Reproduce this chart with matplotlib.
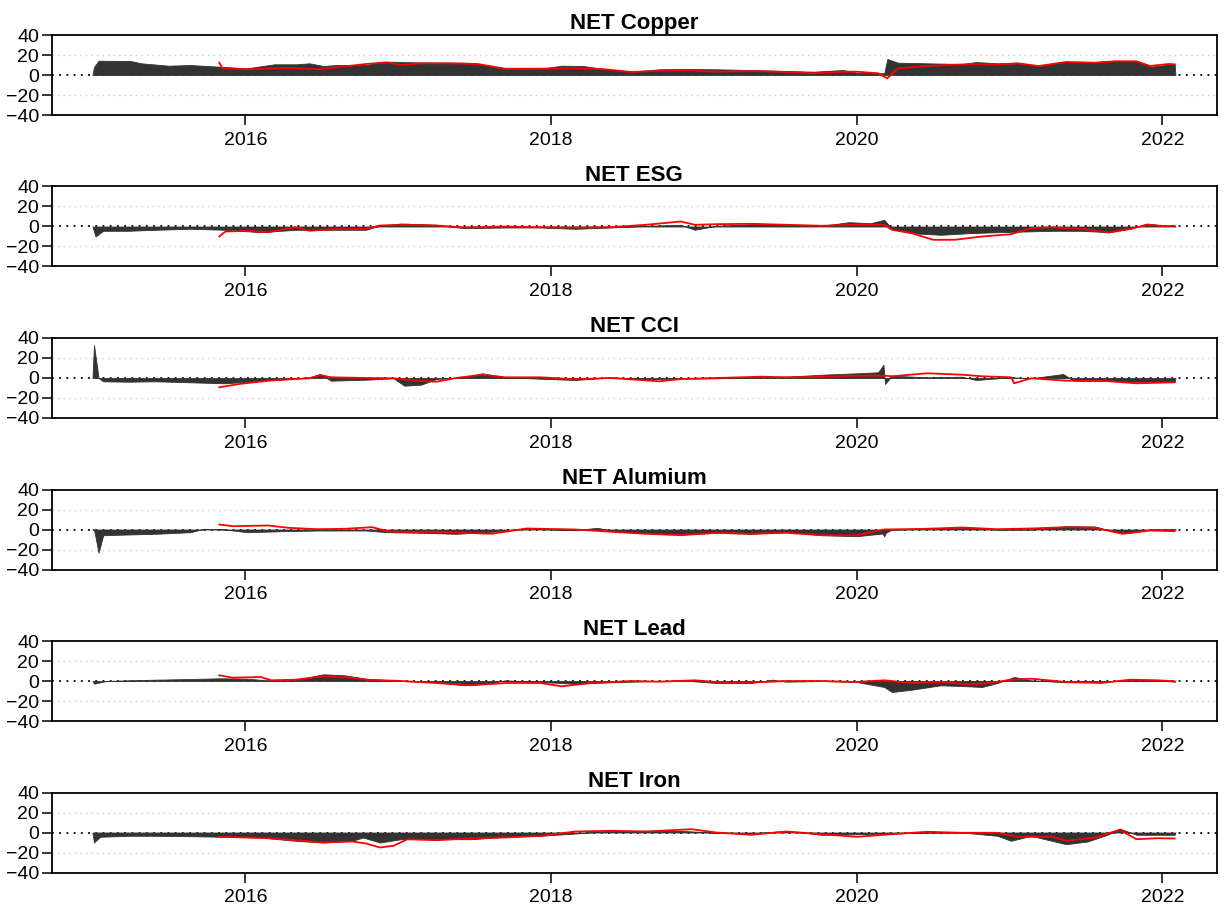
import matplotlib
matplotlib.use("Agg")
import matplotlib.pyplot as plt
import numpy as np

plt.rcParams['font.family'] = ['Liberation Sans', 'DejaVu Sans']

# decimal year, value pairs
titles = ['NET Copper', 'NET ESG', 'NET CCI', 'NET Alumium', 'NET Lead', 'NET Iron']

copper_net = [(2015.00, 0), (2015.01, 8), (2015.04, 14.3), (2015.25, 14), (2015.32, 11.7), (2015.50, 9.3),
              (2015.64, 10), (2015.83, 8.3), (2016.01, 6.7), (2016.19, 10.7), (2016.33, 10.7), (2016.42, 11.7),
              (2016.51, 9), (2016.60, 10), (2016.79, 10), (2016.88, 13), (2016.97, 13.3), (2017.11, 12.7),
              (2017.25, 12.3), (2017.43, 12.3), (2017.57, 10), (2017.70, 6), (2017.93, 6.3), (2018.07, 9.3),
              (2018.21, 9), (2018.35, 6), (2018.53, 3.3), (2018.71, 5.7), (2018.90, 6), (2019.08, 5.7),
              (2019.31, 5), (2019.54, 4), (2019.72, 3.3), (2019.91, 5), (2020.00, 2.3), (2020.18, 1.7),
              (2020.20, 16), (2020.27, 12.3), (2020.46, 11.7), (2020.69, 11), (2020.78, 13), (2020.92, 11.7),
              (2021.05, 12.3), (2021.19, 9), (2021.37, 13.3), (2021.56, 13), (2021.69, 14.3), (2021.83, 13.7),
              (2021.92, 8.3), (2022.02, 10), (2022.08, 11), (2022.085, 0)]
copper_pair = [(2015.83, 12.3), (2015.85, 6.7), (2016.01, 5.7), (2016.19, 6.7), (2016.33, 6.7), (2016.47, 5.7),
               (2016.60, 7.7), (2016.79, 11), (2016.93, 12.7), (2017.02, 10), (2017.15, 11.7), (2017.34, 11.7),
               (2017.52, 11), (2017.70, 6.3), (2017.93, 6.3), (2018.16, 6.7), (2018.35, 5.7), (2018.53, 3),
               (2018.71, 4.3), (2018.90, 4.7), (2019.08, 3.3), (2019.31, 4), (2019.54, 3), (2019.72, 1.7),
               (2019.91, 3.3), (2020.00, 3.3), (2020.14, 1.7), (2020.20, -3.3), (2020.27, 6.7), (2020.46, 9),
               (2020.59, 10), (2020.78, 11), (2020.92, 10.3), (2021.05, 11.7), (2021.19, 9), (2021.37, 13),
               (2021.56, 12.3), (2021.69, 13.7), (2021.83, 13.7), (2021.92, 9), (2022.04, 11), (2022.08, 10.7)]

esg_net = [(2015.00, 0), (2015.02, -10), (2015.07, -4.3), (2015.23, -4.3), (2015.41, -3.3), (2015.64, -2.3),
           (2015.87, -3.3), (2016.10, -5.7), (2016.33, -3.3), (2016.56, -3.3), (2016.79, -3.3), (2016.88, 1),
           (2017.02, 3), (2017.25, 1.7), (2017.43, -1.7), (2017.70, -1), (2017.93, -1), (2018.16, -2.3),
           (2018.39, -1), (2018.62, 0.7), (2018.85, 1.7), (2018.94, -3.3), (2019.08, 0.7), (2019.31, 2.3),
           (2019.54, 1.7), (2019.77, 0.7), (2019.95, 4.3), (2020.09, 3.3), (2020.18, 6.7), (2020.23, -2.3),
           (2020.36, -6.7), (2020.55, -8.3), (2020.73, -6.7), (2020.92, -5.7), (2021.10, -5), (2021.28, -4.3),
           (2021.47, -4.3), (2021.65, -5.7), (2021.79, -2.3), (2021.90, 3), (2022.02, 0.7), (2022.08, 0.7),
           (2022.085, 0)]
esg_pair = [(2015.83, -10), (2015.87, -5), (2016.01, -4.3), (2016.15, -5.7), (2016.33, -0.7), (2016.42, -4.3),
            (2016.56, -2.7), (2016.79, -2.3), (2016.88, 1), (2017.06, 1.7), (2017.25, 1), (2017.43, -1),
            (2017.70, 0), (2017.93, -0.7), (2018.16, -1), (2018.39, -0.7), (2018.62, 1.7), (2018.85, 5),
            (2018.94, 1.7), (2019.08, 2.3), (2019.31, 2.7), (2019.54, 1.7), (2019.77, 0.7), (2019.95, 1.7),
            (2020.18, 1.7), (2020.23, -3.3), (2020.36, -6.7), (2020.50, -13.3), (2020.64, -13.3), (2020.82, -10),
            (2021.01, -7.7), (2021.14, -1.7), (2021.28, -0.7), (2021.47, -2.3), (2021.65, -6), (2021.79, -2.3),
            (2021.90, 1.7), (2022.02, 0.3), (2022.08, 0.7)]

cci_net = [(2015.00, 0), (2015.01, 33), (2015.04, 0), (2015.07, -3.3), (2015.23, -3.7), (2015.41, -3.3),
           (2015.64, -4.3), (2015.87, -5.3), (2016.05, -3.3), (2016.24, -1.3), (2016.42, 0.7), (2016.49, 4),
           (2016.56, -2.7), (2016.79, -1.7), (2016.97, -0.3), (2017.04, -7.7), (2017.15, -6.7), (2017.25, -1),
           (2017.43, 0.7), (2017.55, 4.7), (2017.70, 0.7), (2017.93, -0.7), (2018.16, -2), (2018.39, 0.7),
           (2018.62, -1), (2018.85, -0.7), (2019.08, -0.3), (2019.31, 0.7), (2019.54, 1.3), (2019.77, 3.3),
           (2020.00, 4.7), (2020.14, 5.7), (2020.175, 13.3), (2020.185, -6), (2020.23, 2.3), (2020.46, 0.7),
           (2020.69, 1.3), (2020.78, -2), (2021.01, 0.7), (2021.14, -0.3), (2021.35, 4), (2021.42, -2.7),
           (2021.60, -2.7), (2021.83, -3.7), (2022.08, -3.7), (2022.085, 0)]
cci_pair = [(2015.83, -9.3), (2015.96, -6), (2016.15, -2.7), (2016.33, -1), (2016.42, -0.3), (2016.49, 3),
            (2016.56, 0.7), (2016.79, 0), (2016.97, -0.3), (2017.11, -2.7), (2017.25, -3.7), (2017.38, 0),
            (2017.55, 3.3), (2017.70, 0.7), (2017.93, 0.7), (2018.16, -1.3), (2018.39, 0), (2018.71, -3.3),
            (2018.85, -1), (2019.08, 0), (2019.38, 1.3), (2019.54, 0.7), (2019.77, 1.3), (2020.00, 2.3),
            (2020.18, 2.3), (2020.23, 1.7), (2020.46, 4.7), (2020.69, 3.3), (2020.82, 1.7), (2021.01, 0.7),
            (2021.03, -5.3), (2021.14, -0.3), (2021.37, -2.7), (2021.60, -2.7), (2021.83, -5.3), (2022.08, -4.3)]

alum_net = [(2015.00, 0), (2015.01, 0), (2015.04, -23.3), (2015.07, -5.7), (2015.23, -5), (2015.41, -4.3),
            (2015.64, -2.7), (2015.73, 0.7), (2015.87, 0), (2016.01, -2.7), (2016.24, -1.7), (2016.47, -1),
            (2016.79, -1), (2016.93, -2.7), (2017.16, -3.3), (2017.38, -4.3), (2017.61, -2.3), (2017.84, 1),
            (2018.16, -0.7), (2018.30, 1.7), (2018.44, -2.3), (2018.62, -3.3), (2018.85, -5), (2019.08, -3.3),
            (2019.31, -4.3), (2019.54, -2.3), (2019.77, -5.7), (2020.00, -6.7), (2020.17, -4), (2020.18, -7),
            (2020.19, -3.3), (2020.23, 0), (2020.46, 0.7), (2020.69, 1.7), (2020.92, 0), (2021.14, 0),
            (2021.37, 3.3), (2021.56, 3), (2021.69, -2.3), (2021.79, -3.3), (2021.92, 0), (2022.08, 0),
            (2022.085, 0)]
alum_pair = [(2015.83, 5), (2015.92, 3.3), (2016.15, 4), (2016.28, 1.7), (2016.47, 0.3), (2016.65, 0.7),
             (2016.83, 2.3), (2016.93, -1.7), (2017.06, -2.7), (2017.25, -2.3), (2017.43, -3.3), (2017.61, -4.3),
             (2017.84, 1), (2018.16, 0), (2018.44, -2.7), (2018.62, -4.3), (2018.85, -5.7), (2019.08, -3.3),
             (2019.31, -4.3), (2019.54, -3.3), (2019.77, -5.7), (2020.00, -5.7), (2020.18, 0), (2020.46, 0.7),
             (2020.69, 2), (2020.92, 0.3), (2021.14, 1), (2021.37, 2.3), (2021.56, 1.7), (2021.74, -4.3),
             (2021.92, -1), (2022.08, -1.7)]

lead_net = [(2015.00, 0), (2015.01, -2.7), (2015.09, 0), (2015.23, 0.7), (2015.41, 1.3), (2015.64, 2),
            (2015.83, 2.7), (2016.01, 2.3), (2016.15, 0.7), (2016.33, 1.3), (2016.51, 6.7), (2016.65, 5.7),
            (2016.79, 2.3), (2017.02, 0), (2017.25, -1.3), (2017.43, -4.3), (2017.61, -2), (2017.70, 0.7),
            (2017.93, -1), (2018.16, -2.7), (2018.39, -1.3), (2018.62, -0.3), (2018.85, 0.7), (2019.08, -2),
            (2019.31, -2), (2019.45, 1.3), (2019.54, -0.7), (2019.77, 0), (2020.00, -1), (2020.18, -6),
            (2020.23, -11), (2020.36, -8.7), (2020.55, -4.3), (2020.73, -5.3), (2020.82, -6), (2020.92, -2),
            (2021.03, 4), (2021.14, 0.7), (2021.37, -1.3), (2021.60, -1), (2021.79, 1.3), (2021.97, 0.7),
            (2022.08, -0.7), (2022.085, 0)]
lead_pair = [(2015.83, 5.7), (2015.92, 3.3), (2016.10, 4), (2016.17, 0.7), (2016.33, 1.3), (2016.51, 4.7),
             (2016.70, 3.3), (2016.79, 1.3), (2017.02, 0), (2017.25, -2), (2017.48, -4.3), (2017.70, -2),
             (2017.93, -2), (2018.07, -5.3), (2018.26, -2), (2018.53, 0), (2018.71, -0.7), (2018.94, 0.7),
             (2019.17, -2), (2019.40, -1), (2019.54, 0), (2019.77, 0), (2020.00, -1), (2020.18, 0.7),
             (2020.36, -2), (2020.55, -1), (2020.73, -3.3), (2020.87, -2), (2021.01, 1.3), (2021.14, 2.3),
             (2021.37, -1), (2021.60, -2), (2021.79, 1.3), (2021.97, 0.7), (2022.08, -0.3)]

iron_net = [(2015.00, 0), (2015.01, -10), (2015.05, -4.3), (2015.23, -3.3), (2015.41, -3.3), (2015.64, -3.7),
            (2015.87, -4.3), (2016.10, -5), (2016.33, -8.3), (2016.51, -10), (2016.70, -8.3), (2016.77, -5),
            (2016.88, -10), (2017.02, -6.7), (2017.25, -6.7), (2017.48, -6.7), (2017.70, -4.3), (2017.93, -3.3),
            (2018.16, -1), (2018.39, 1.7), (2018.62, 1.7), (2018.85, 1.7), (2019.08, -0.3), (2019.31, -1),
            (2019.54, 1.7), (2019.77, -2.3), (2020.00, -1.7), (2020.23, -1), (2020.46, 0), (2020.69, 0),
            (2020.92, -3.3), (2021.01, -8.3), (2021.14, -3.3), (2021.37, -11.7), (2021.51, -9), (2021.65, -1.7),
            (2021.72, 4), (2021.83, -2.3), (2022.08, -2.3), (2022.085, 0)]
iron_pair = [(2015.83, -4.3), (2016.01, -5), (2016.15, -5.7), (2016.33, -7.7), (2016.51, -10), (2016.70, -9),
             (2016.79, -11), (2016.88, -15), (2016.97, -13.3), (2017.06, -6.7), (2017.25, -7.7), (2017.48, -5.7),
             (2017.70, -5), (2017.93, -3.3), (2018.16, 1), (2018.39, 1.7), (2018.62, 1), (2018.92, 3.3),
             (2019.08, 0), (2019.31, -2.3), (2019.54, 1), (2019.77, -1.7), (2020.00, -4.3), (2020.23, -1.7),
             (2020.46, 0.7), (2020.69, -0.3), (2020.92, -0.3), (2021.05, -4.3), (2021.28, -4.3), (2021.37, -8.3),
             (2021.56, -5), (2021.72, 2.7), (2021.83, -6.7), (2021.97, -5.7), (2022.08, -6)]

net_series = [copper_net, esg_net, cci_net, alum_net, lead_net, iron_net]
pair_series = [copper_pair, esg_pair, cci_pair, alum_pair, lead_pair, iron_pair]

year_ticks = [2016, 2018, 2020, 2022]
value_ticks = [-40, -20, 0, 20, 40]


def main():
    W, H = 1225, 905
    fig = plt.figure(figsize=(W / 100, H / 100), dpi=100)

    left, right = 51.5, 1217
    for i, title in enumerate(titles):
        top = 35 + 151.5 * i
        bottom = top + 80
        ax = fig.add_axes([left / W, 1 - bottom / H, (right - left) / W, 80 / H])

        net = np.array(net_series[i])
        pair = np.array(pair_series[i])

        for g in (20, -20):
            ax.axhline(g, color='#c8c8c8', lw=1.0, linestyle=(0, (1, 3)), zorder=1)
        ax.axhline(0, color='black', lw=1.3, linestyle=(0, (1, 3)), zorder=1)
        ax.fill_between(net[:, 0], 0, net[:, 1], color='#333333', lw=0.6, edgecolor='#333333', zorder=2)
        ax.plot(pair[:, 0], pair[:, 1], color='red', lw=1.3, zorder=3)

        ax.set_xlim(2014.732, 2022.357)
        ax.set_ylim(-40, 40)
        ax.set_xticks(year_ticks)
        ax.set_yticks(value_ticks)
        ax.tick_params(direction='out', length=7, width=1.1, labelsize=14, colors='black')
        ax.tick_params(axis='x', pad=5)
        ax.tick_params(axis='y', pad=2)
        for s in ax.spines.values():
            s.set_linewidth(1.3)
        ax.set_title(title, fontsize=16, fontweight='bold', pad=4)

    fig.savefig('out.png', dpi=100)


if __name__ == "__main__":
    main()
